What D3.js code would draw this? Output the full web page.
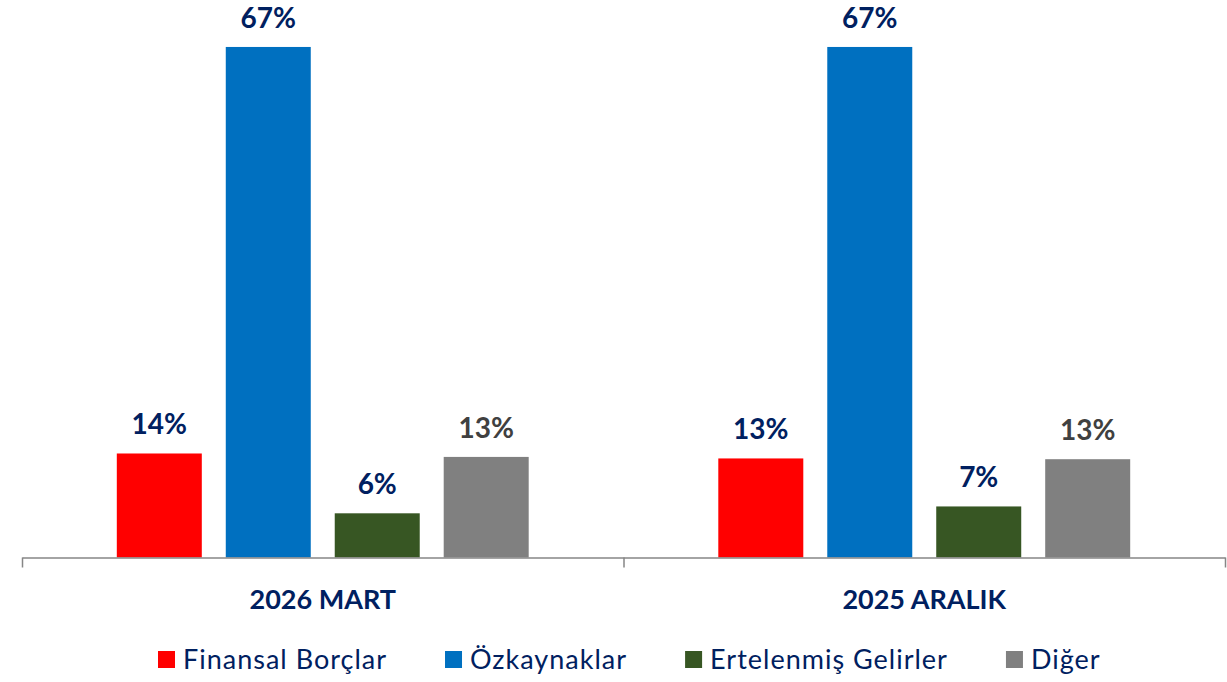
<!DOCTYPE html>
<html>
<head>
<meta charset="utf-8">
<script src="https://cdn.jsdelivr.net/npm/d3@7"></script>
<style>
  body { margin: 0; background: #ffffff; }
  svg { display: block; font-family: Lato, "Open Sans", sans-serif; }
</style>
</head>
<body>
<div id="chart"></div>
<script>
"use strict";

// Chart data.
const periods = ["2026 MART", "2025 ARALIK"];
const seriesNames = ["Finansal Borçlar", "Özkaynaklar", "Ertelenmiş Gelirler", "Diğer"];
const seriesColors = ["#ff0000", "#0070c0", "#375623", "#808080"];
const labelColors = ["#002060", "#002060", "#002060", "#404040"];
// Values per series, in the order of periods.
const finansal = [13.65, 13.0];
const ozkaynak = [67.0, 67.0];
const ertelenmis = [5.8, 6.7];
const diger = [13.2, 12.9];

const seriesValues = [finansal, ozkaynak, ertelenmis, diger];

const width = 1227, height = 682;
const left = 22, right = 1225;
const baseline = 557.5;

let svg = d3.select("#chart").append("svg")
    .attr("width", width)
    .attr("height", height);

// Outer scale for periods, inner scale for series.
let x0 = d3.scaleBand().domain(periods).range([left, right]).padding(0);
let x1 = d3.scaleBand().domain(seriesNames).range([0, x0.bandwidth()])
    .paddingInner(0.22).paddingOuter(0.87);
let y = d3.scaleLinear().domain([0, 70]).range([baseline, baseline - 70 * 7.62]);

// Flatten data into bar records.
let bars = [];
periods.forEach((p, pi) => {
    seriesNames.forEach((s, si) => {
        bars.push({period: p, series: s, si: si, value: seriesValues[si][pi]});
    });
});

let g = svg.append("g");

g.selectAll("rect.bar").data(bars).enter().append("rect")
    .attr("class", "bar")
    .attr("x", d => x0(d.period) + x1(d.series))
    .attr("y", d => y(d.value))
    .attr("width", x1.bandwidth())
    .attr("height", d => baseline - y(d.value))
    .attr("fill", d => seriesColors[d.si]);

// Value labels above bars.
let fmt = d3.format(".0f");
g.selectAll("text.val").data(bars).enter().append("text")
    .attr("class", "val")
    .attr("x", d => x0(d.period) + x1(d.series) + x1.bandwidth() / 2)
    .attr("y", d => y(d.value) - 19)
    .attr("text-anchor", "middle")
    .style("font-size", "28px")
    .style("font-weight", "bold")
    .style("fill", d => labelColors[d.si])
    .text(d => fmt(d.value) + "%");

// Category axis: line with ticks at the band edges.
let edges = d3.scaleLinear().domain([0, periods.length]).range([left, right]);
let axis = d3.axisBottom(edges).tickValues(d3.range(periods.length + 1))
    .tickSize(10).tickSizeOuter(0).tickFormat("");
let ax = svg.append("g")
    .attr("transform", "translate(0," + baseline + ")")
    .call(axis);
ax.select(".domain").attr("stroke", "#868686").attr("stroke-width", 1.5);
ax.selectAll(".tick line").attr("stroke", "#868686").attr("stroke-width", 1.5);

svg.selectAll("text.cat").data(periods).enter().append("text")
    .attr("class", "cat")
    .attr("x", d => x0(d) + x0.bandwidth() / 2)
    .attr("y", 609)
    .attr("text-anchor", "middle")
    .style("font-size", "27px")
    .style("font-weight", "bold")
    .style("fill", "#002060")
    .text(d => d);

// Legend.
let legend = svg.append("g");
let lx = 158;
const gaps = 58;
seriesNames.forEach((s, i) => {
    let item = legend.append("g").attr("transform", "translate(" + lx + ",0)");
    item.append("rect")
        .attr("x", 0).attr("y", 651)
        .attr("width", 17).attr("height", 17)
        .attr("fill", seriesColors[i]);
    let t = item.append("text")
        .attr("x", 25).attr("y", 669)
        .style("font-size", "27px")
        .style("letter-spacing", "1px")
        .style("fill", "#002060")
        .text(s);
    lx += 25 + t.node().getComputedTextLength() + gaps;
});
</script>
</body>
</html>
